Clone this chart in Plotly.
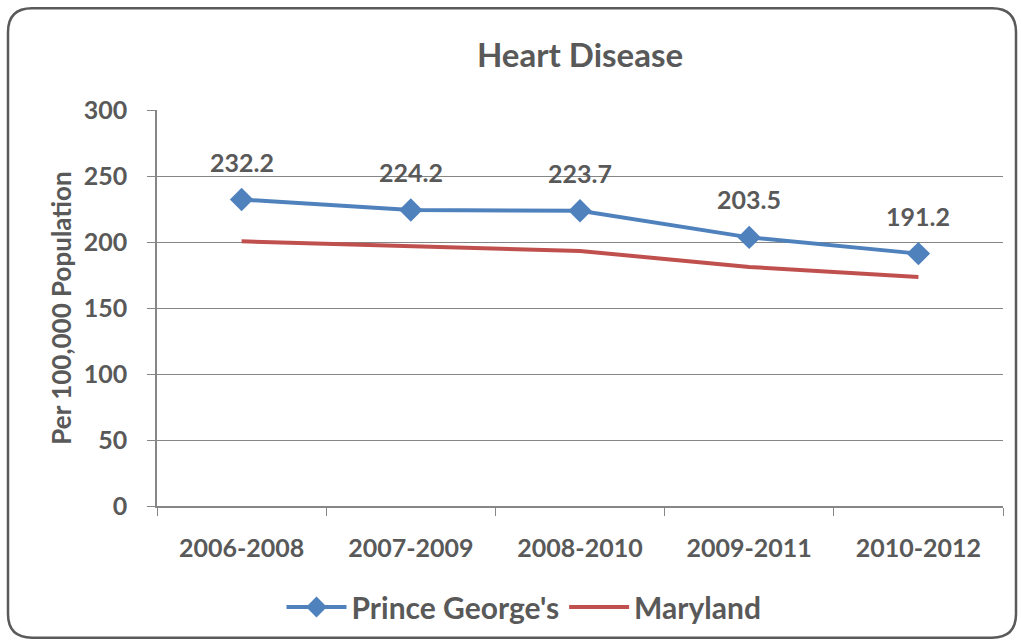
import plotly.graph_objects as go

categories = ["2006-2008", "2007-2009", "2008-2010", "2009-2011", "2010-2012"]
prince_georges = [232.2, 224.2, 223.7, 203.5, 191.2]
maryland = [200.5, 196.6, 193.2, 181.1, 173.5]
y_ticks = [0, 50, 100, 150, 200, 250, 300]

TXT = "#595959"
FONT = "Lato"
W, H = 1021, 644
L, R, T, B = 157, 18, 110, 137
pw, ph = W - L - R, H - T - B

def px(x):
    return (x - L) / pw

def py(y):
    return (H - B - y) / ph

fig = go.Figure()
fig.add_trace(go.Scatter(
    x=categories, y=maryland, name="Maryland", mode="lines",
    line=dict(color="#C0504D", width=4)))
fig.add_trace(go.Scatter(
    x=categories, y=prince_georges, name="Prince George's", mode="lines+markers",
    line=dict(color="#4F81BD", width=4),
    marker=dict(symbol="diamond", size=18, color="#4F81BD")))

for c, v in zip(categories, prince_georges):
    fig.add_annotation(x=c, y=v, text=f"{v:.1f}", showarrow=False, yshift=38,
                       font=dict(family=FONT, size=25, color=TXT, weight="bold"))

# rounded border
x0, x1, y0, y1, r = 8, 1016, 8, 639, 24
path = (f"M {px(x0 + r)},{py(y0)} L {px(x1 - r)},{py(y0)} Q {px(x1)},{py(y0)} {px(x1)},{py(y0 + r)} "
        f"L {px(x1)},{py(y1 - r)} Q {px(x1)},{py(y1)} {px(x1 - r)},{py(y1)} "
        f"L {px(x0 + r)},{py(y1)} Q {px(x0)},{py(y1)} {px(x0)},{py(y1 - r)} "
        f"L {px(x0)},{py(y0 + r)} Q {px(x0)},{py(y0)} {px(x0 + r)},{py(y0)} Z")
fig.add_shape(type="path", xref="paper", yref="paper", path=path,
              line=dict(color="#5a5a5a", width=2.5), layer="below")

fig.update_layout(
    width=W, height=H,
    margin=dict(l=L, r=R, t=T, b=B),
    paper_bgcolor="white", plot_bgcolor="white",
    title=dict(text="Heart Disease", x=0.5, xref="paper", xanchor="center",
               y=1 - 55 / H, yanchor="middle",
               font=dict(family=FONT, size=33, color=TXT, weight="bold")),
    showlegend=True,
    legend=dict(orientation="h", x=px(524), xanchor="center", xref="paper",
                y=-(607 - (H - B)) / ph, yanchor="middle",
                traceorder="reversed",
                font=dict(family=FONT, size=30, color=TXT, weight="bold"),
                itemwidth=60),
    font=dict(family=FONT, color=TXT),
)
fig.update_xaxes(
    type="category", range=[-0.5, len(categories) - 0.5],
    showgrid=False, showline=True, linecolor="#868686", linewidth=1.5,
    ticks="outside", tickson="boundaries", ticklen=8, tickcolor="#868686",
    ticklabelstandoff=19,
    tickfont=dict(family=FONT, size=25, color=TXT, weight="bold"))
fig.update_yaxes(
    range=[0, 300], tickvals=y_ticks, showgrid=True, gridcolor="#868686", gridwidth=1,
    showline=True, linecolor="#868686", linewidth=1.5, zeroline=False,
    ticks="outside", ticklen=8, tickcolor="#868686", ticklabelstandoff=15,
    tickfont=dict(family=FONT, size=25, color=TXT, weight="bold"),
    title=dict(text="Per 100,000 Population", standoff=5,
               font=dict(family=FONT, size=26, color=TXT, weight="bold")))

fig.write_html("out.html", config={"displayModeBar": False},
               post_script="document.body.style.margin='0px';")
